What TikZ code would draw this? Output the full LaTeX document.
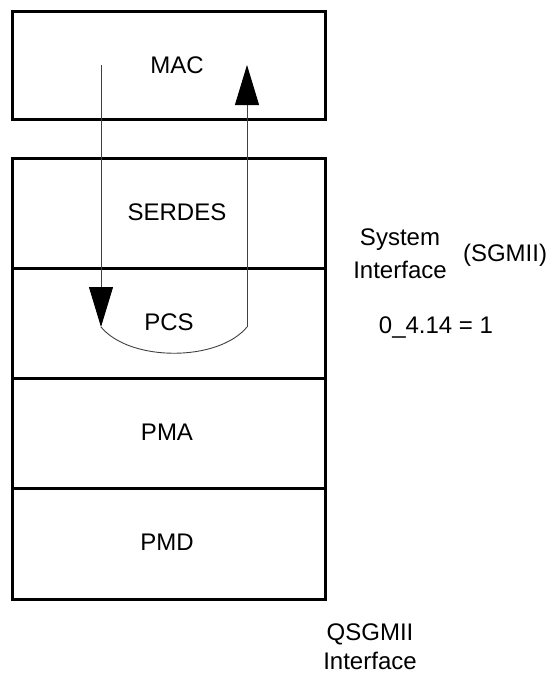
\documentclass[tikz,border=0pt]{standalone}
\usepackage{fontspec}
\setmainfont{Liberation Sans}
\usetikzlibrary{arrows.meta}
\begin{document}
\begin{tikzpicture}[x=1pt,y=-1pt,
  layer/.style={draw, line width=3pt, minimum width=313pt, inner sep=0pt, anchor=north west},
  lbl/.style={font=\fontsize{24}{27}\selectfont, inner sep=0pt},
  flow/.style={line width=0.9pt, draw=black!75},
  tip/.style={-{Triangle[length=40pt,width=24pt,fill=black,color=black]}, line width=0.9pt, draw=black!75}]
\useasboundingbox (0,0) rectangle (553,675);
% layers
\node[layer, minimum height=108pt] (mac) at (11,10) {};
\node[layer, minimum height=110pt] (serdes) at (11,157) {};
\node[layer, minimum height=110pt] (pcs) at (11,267) {};
\node[layer, minimum height=110pt] (pma) at (11,377) {};
\node[layer, minimum height=111pt] (pmd) at (11,487) {};
% labels
\node[lbl] (tmac) at (177,65) {MAC};
\node[lbl] (tserdes) at (177,212) {SERDES};
\node[lbl] (tpcs) at (169,322) {PCS};
\node[lbl] (tpma) at (167,432) {PMA};
\node[lbl] (tpmd) at (167,542) {PMD};
\node[lbl] (tsys) at (400,240) {System};
\node[lbl] (tintf) at (400,270) {Interface};
\node[lbl] (tsgmii) at (505,255) {(SGMII)};
\node[lbl] (treg) at (436,328) {0\_4.14 = 1};
\node[lbl] (tq) at (370,634) {QSGMII};
\node[lbl] (tqi) at (370,661) {Interface};
% loop path
\coordinate (a0) at (101,65);
\coordinate (a1) at (101,327);
\coordinate (b1) at (247,327);
\coordinate (b0) at (247,65);
\draw[tip] (a0) -- (a1);
\draw[flow] (a1) .. controls (130,362) and (218,362) .. (b1);
\draw[tip] (b1) -- (b0);
\end{tikzpicture}
\end{document}
